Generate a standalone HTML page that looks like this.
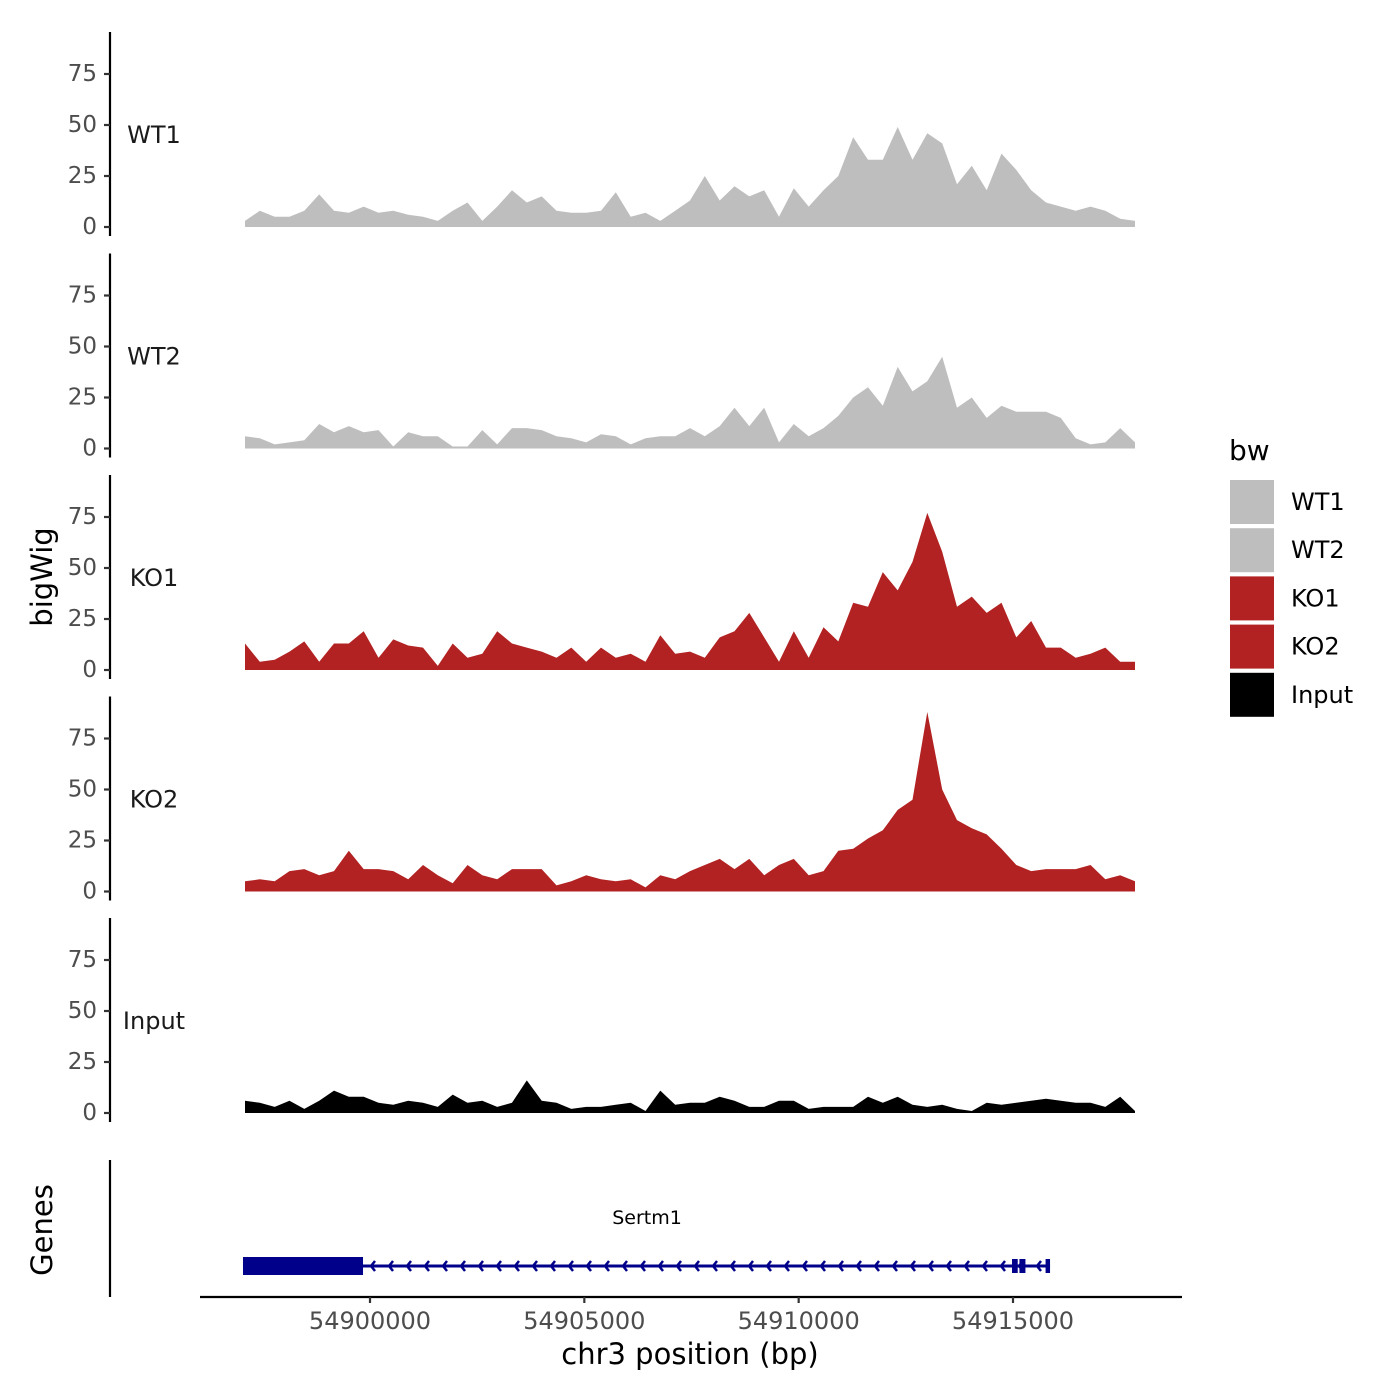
<!DOCTYPE html>
<html><head><meta charset="utf-8">
<style>
html,body{margin:0;padding:0;background:#fff;}
svg{display:block;font-family:"DejaVu Sans","Liberation Sans",sans-serif;}
</style></head>
<body>
<svg id="chart" width="1400" height="1400" viewBox="0 0 1400 1400" xmlns="http://www.w3.org/2000/svg">
<g id="axes"></g>
<g id="tracks"></g>
<g id="genes"></g>
<text x="42" y="577" transform="rotate(-90 42 577)" text-anchor="middle" dominant-baseline="central" font-size="29" fill="#000">bigWig</text>
<text x="42" y="1230" transform="rotate(-90 42 1230)" text-anchor="middle" dominant-baseline="central" font-size="29" fill="#000">Genes</text>
<text x="690" y="1364" text-anchor="middle" font-size="29" fill="#000">chr3 position (bp)</text>
<g id="legend">
<text x="1229" y="460" font-size="28" fill="#000">bw</text>
</g>
</svg>
<script>
const trackNames = ["WT1","WT2","KO1","KO2","Input"];
const trackColors = ["#bebebe","#bebebe","#b22222","#b22222","#000000"];
const yTicks = [0,25,50,75];
const xTicks = [54900000,54905000,54910000,54915000];
const startBp = 54897084;
const endBp = 54917846;
const wt1 = [3,8,5,5,8,16,8,7,10,7,8,6,5,3,8,12,3,10,18,12,15,8,7,7,8,17,5,7,3,8,13,25,13,20,15,18,5,19,10,18,25,44,33,33,49,33,46,41,21,30,18,36,28,18,12,10,8,10,8,4,3];
const wt2 = [6,5,2,3,4,12,8,11,8,9,1,8,6,6,1,1,9,2,10,10,9,6,5,3,7,6,2,5,6,6,10,6,11,20,11,20,3,12,6,10,16,25,30,21,40,28,33,45,20,25,15,21,18,18,18,15,5,2,3,10,3];
const ko1 = [13,4,5,9,14,4,13,13,19,6,15,12,11,2,13,6,8,19,13,11,9,6,11,4,11,6,8,4,17,8,9,6,16,19,28,16,4,19,6,21,14,33,31,48,39,53,77,58,31,36,28,33,16,24,11,11,6,8,11,4,4];
const ko2 = [5,6,5,10,11,8,10,20,11,11,10,6,13,8,4,13,8,6,11,11,11,3,5,8,6,5,6,2,8,6,10,13,16,11,16,8,13,16,8,10,20,21,26,30,40,45,88,50,35,31,28,21,13,10,11,11,11,13,6,8,5];
const inputSig = [6,5,3,6,2,6,11,8,8,5,4,6,5,3,9,5,6,3,5,16,6,5,2,3,3,4,5,1,11,4,5,5,8,6,3,3,6,6,2,3,3,3,8,5,8,4,3,4,2,1,5,4,5,6,7,6,5,5,3,8,1];
const series = [wt1,wt2,ko1,ko2,inputSig];
const geneExons = [[54897037,54899837],[54914977,54915110],[54915150,54915290],[54915760,54915864]];
const geneSpan = [54897037,54915864];
const geneName = "Sertm1";

const NS = "http://www.w3.org/2000/svg";
function xScale(bp){ return 370 + (bp-54900000)*643/15000; }
function zeroY(k){ return 227 + k*221.5; }
function yScale(k,v){ return zeroY(k) - v*2.04; }
function mk(tag, attrs, parent){ const e=document.createElementNS(NS,tag); for(const a in attrs) e.setAttribute(a,attrs[a]); parent.appendChild(e); return e; }

const axes=document.getElementById("axes");
const tracks=document.getElementById("tracks");
for(let k=0;k<trackNames.length;k++){
  const z=zeroY(k);
  const ax=mk("line",{x1:110,x2:110,y1:z-195,y2:z+9,stroke:"#000","stroke-width":2.2},axes);
  
  
  yTicks.forEach(t=>{
    const y=yScale(k,t);
    const tl=mk("line",{x1:104,x2:110,y1:y,y2:y,stroke:"#333","stroke-width":2.2},axes);
    
    
    const tx=mk("text",{x:97,y:y,"text-anchor":"end","dominant-baseline":"central","font-size":23,fill:"#4d4d4d"},axes);
    tx.textContent=t;
    
    
  });
  const lab=mk("text",{x:154,y:yScale(k,45),"text-anchor":"middle","dominant-baseline":"central","font-size":24,fill:"#1a1a1a"},axes);
  lab.textContent=trackNames[k];
  
  
  const vals=series[k];
  const n=vals.length;
  let d="M"+xScale(startBp).toFixed(1)+","+z;
  for(let i=0;i<n;i++){
    const bp=startBp+(endBp-startBp)*i/(n-1);
    d+=" L"+xScale(bp).toFixed(1)+","+yScale(k,vals[i]).toFixed(1);
  }
  d+=" L"+xScale(endBp).toFixed(1)+","+z+" Z";
  const p=mk("path",{d:d,fill:trackColors[k]},tracks);
  
  
}
const ga=mk("line",{x1:110,x2:110,y1:1160,y2:1297,stroke:"#000","stroke-width":2.2},axes);


const xa=mk("line",{x1:200,x2:1182,y1:1297,y2:1297,stroke:"#000","stroke-width":2.2},axes);


xTicks.forEach(t=>{
  const x=xScale(t);
  const tl=mk("line",{x1:x,x2:x,y1:1297,y2:1303,stroke:"#333","stroke-width":2.2},axes);
  
  
  const tx=mk("text",{x:x,y:1329,"text-anchor":"middle","font-size":24,fill:"#4d4d4d"},axes);
  tx.textContent=t;
  
  
});
const genes=document.getElementById("genes");
const gy=1266;
const gl=mk("line",{x1:xScale(geneSpan[0]),x2:xScale(geneSpan[1]),y1:gy,y2:gy,stroke:"#00008b","stroke-width":3},genes);


for(let x=xScale(geneExons[0][1])+8;x<xScale(geneSpan[1]);x+=18){
  const a=mk("polyline",{points:(x+4)+","+(gy-5)+" "+x+","+gy+" "+(x+4)+","+(gy+5),fill:"none",stroke:"#00008b","stroke-width":2.5},genes);
  
  
}
geneExons.forEach((e,i)=>{
  const h = i===0?18:14;
  const r=mk("rect",{x:xScale(e[0]),y:gy-h/2,width:Math.max(3,xScale(e[1])-xScale(e[0])),height:h,fill:"#00008b"},genes);
  
  
});
const gn=mk("text",{x:647,y:1224,"text-anchor":"middle","font-size":19,fill:"#000"},genes);
gn.textContent=geneName;


const legend=document.getElementById("legend");
const legendColors=["#bebebe","#bebebe","#b22222","#b22222","#000000"];
trackNames.forEach((nm,i)=>{
  const y=480+i*48.2;
  const r=mk("rect",{x:1230,y:y,width:44,height:44,fill:legendColors[i]},legend);
  
  
  const t=mk("text",{x:1291,y:y+22,"dominant-baseline":"central","font-size":24,fill:"#000"},legend);
  t.textContent=nm;
  
  
});
</script>
</body></html>
